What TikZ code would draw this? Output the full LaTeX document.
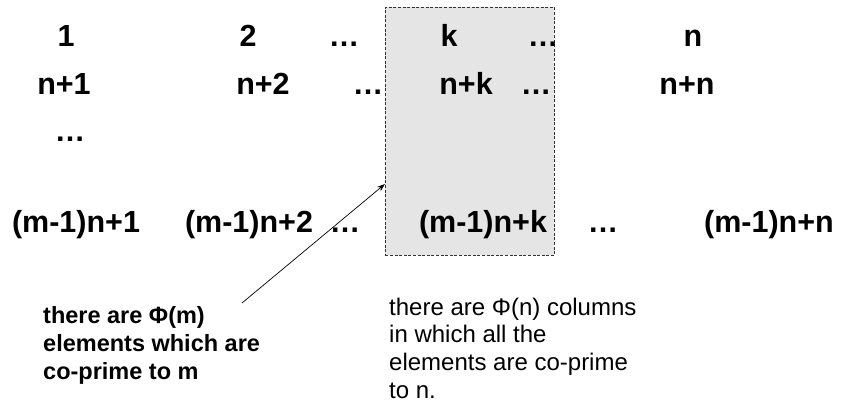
\documentclass[tikz,border=0pt]{standalone}
\usepackage{fontspec}
\setmainfont{Liberation Sans}
\usetikzlibrary{arrows.meta}
\begin{document}
\begin{tikzpicture}[x=1pt,y=-1pt,
  num/.style={anchor=base,inner sep=0pt,font=\fontsize{30.5}{36}\selectfont\bfseries},
  note/.style={anchor=north west,inner sep=0pt,align=left},
  colbox/.style={draw=black!80,fill=black!10,dashed,dash pattern=on 3pt off 1.6pt,line width=0.8pt},
  pointer/.style={draw=black,line width=0.7pt,-{Stealth[length=8pt,width=5.5pt]}}]
\useasboundingbox (0,0) rectangle (846,403);
\fill[white] (0,0) rectangle (846,403);
% highlighted column
\node[colbox,minimum width=169pt,minimum height=248pt,inner sep=0pt,anchor=north west] (col) at (385,7) {};
% row 1
\node[num] (r1c1) at (66,46.5) {1};
\node[num] (r1c2) at (248,46.5) {2};
\node[num] (r1d1) at (344,46.5) {…};
\node[num] (r1ck) at (449,46.5) {k};
\node[num] (r1d2) at (543,46.5) {…};
\node[num] (r1cn) at (693,46.5) {n};
% row 2
\node[num] (r2c1) at (64,95) {n+1};
\node[num] (r2c2) at (263,95) {n+2};
\node[num] (r2d1) at (368,95) {…};
\node[num] (r2ck) at (466,95) {n+k};
\node[num] (r2d2) at (536,95) {…};
\node[num] (r2cn) at (687,95) {n+n};
% row 3
\node[num] (r3d) at (70,142) {…};
% row 4
\node[num] (r4c1) at (76,233) {(m-1)n+1};
\node[num] (r4c2) at (249,233) {(m-1)n+2};
\node[num] (r4d1) at (345,233) {…};
\node[num] (r4ck) at (483,233) {(m-1)n+k};
\node[num] (r4d2) at (603,233) {…};
\node[num] (r4cn) at (769,233) {(m-1)n+n};
% notes
\node[note,font=\fontsize{23.5}{28.2}\selectfont\bfseries] (phim) at (43,306)
  {there are Φ(m)\\elements which are\\co-prime to m};
\node[note,font=\fontsize{24}{27.8}\selectfont] (phin) at (389,297.5)
  {there are Φ(n) columns\\in which all the\\elements are co-prime\\to n.};
% arrow
\coordinate (atail) at (242,303);
\coordinate (ahead) at (385,184);
\draw[pointer] (atail) -- (ahead);
\end{tikzpicture}
\end{document}
